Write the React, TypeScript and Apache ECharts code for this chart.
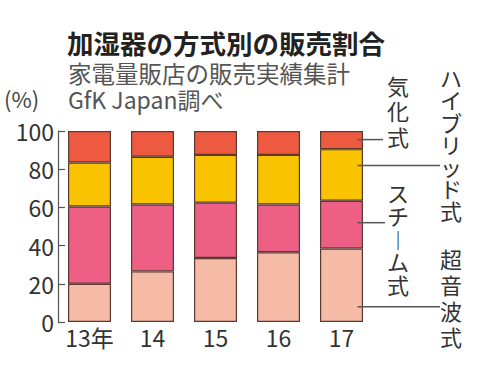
import React, { useEffect, useRef } from "react";
import * as echarts from "echarts";

const categories = ["13年", "14", "15", "16", "17"];
const ultrasonic = [20, 26.5, 33.5, 36.5, 38.5]; // 超音波式
const steam = [40.5, 35, 29, 25, 25]; // スチーム式
const hybrid = [23, 25, 25, 26, 27]; // ハイブリッド式
const vaporize = [16.5, 13.5, 12.5, 12.5, 9.5]; // 気化式
const yTicks = [0, 20, 40, 60, 80, 100];
// leader line anchor values on the last bar
const leaderValues = [95.5, 82, 52, 8];

const FONT = '"Noto Sans CJK JP", "Noto Sans", sans-serif';
const BORDER = "#5a3a30";

export default function App() {
  const ref = useRef<HTMLDivElement>(null);
  useEffect(() => {
    if (!ref.current) return;
    const chart = echarts.init(ref.current, null, { renderer: "svg" });
    const mk = (name: string, data: number[], color: string) => ({
      name,
      type: "bar",
      stack: "s",
      data,
      barWidth: 43,
      itemStyle: { color, borderColor: BORDER, borderWidth: 1.2 },
    });
    const vText = (s: string, x: number, y: number, lh: number) => ({
      type: "text",
      x,
      y,
      style: {
        text: s.split("").join("\n"),
        font: `22px ${FONT}`,
        fill: "#333",
        lineHeight: lh,
        align: "center",
        verticalAlign: "top",
      },
    });
    const baseGraphic: any[] = [
      {
        type: "text",
        left: 67,
        top: 29,
        style: { text: "加湿器の方式別の販売割合", font: `bold 26.5px ${FONT}`, fill: "#222" },
      },
      {
        type: "text",
        left: 68,
        top: 61,
        style: { text: "家電量販店の販売実績集計", font: `23.5px ${FONT}`, fill: "#555" },
      },
      {
        type: "text",
        left: 68,
        top: 87,
        style: { text: "GfK Japan調べ", font: `23px ${FONT}`, fill: "#555" },
      },
      {
        type: "text",
        left: 4,
        top: 87,
        style: { text: "(%)", font: `22px ${FONT}`, fill: "#444" },
      },
      vText("気化式", 398, 72, 25.5),
      vText("ハイブリッド式", 451, 66, 22.2),
      vText("スチ︱ム式", 398, 180, 23),
      vText("超音波式", 451, 245, 26),
    ];
    const option: any = {
      animation: false,
      backgroundColor: "#fff",
      grid: { left: 58, right: 127, top: 131, bottom: 44, containLabel: false },
      xAxis: {
        type: "category",
        data: categories,
        axisLine: { show: false },
        axisTick: { show: false },
        axisLabel: { color: "#333", fontSize: 23, fontFamily: FONT, margin: 3, interval: 0 },
      },
      yAxis: {
        type: "value",
        min: 0,
        max: 100,
        interval: 20,
        axisLine: { show: true, lineStyle: { color: "#555", width: 1.2 } },
        axisTick: { show: true, inside: true, length: 7, lineStyle: { color: "#555", width: 1.2 } },
        splitLine: { show: false },
        axisLabel: {
          color: "#333",
          fontSize: 23,
          fontFamily: FONT,
          margin: 4,
          formatter: (v: number) => (yTicks.includes(v) ? String(v) : ""),
        },
      },
      series: [
        mk("超音波式", ultrasonic, "#F6BBA6"),
        mk("スチーム式", steam, "#EE5F86"),
        mk("ハイブリッド式", hybrid, "#F9C300"),
        mk("気化式", vaporize, "#EE5A3F"),
      ],
      graphic: baseGraphic,
    };
    chart.setOption(option);
    const last = categories[categories.length - 1];
    const ends = [383, 440, 385, 440];
    const lines = leaderValues.map((v, i) => {
      const p = chart.convertToPixel({ gridIndex: 0 }, [last, v]) as number[];
      return {
        type: "line",
        shape: { x1: p[0] + 16, y1: p[1], x2: ends[i], y2: p[1] },
        style: { stroke: "#555", lineWidth: 1.5 },
        z: 10,
      };
    });
    chart.setOption({ graphic: [...baseGraphic, ...lines] }, { replaceMerge: ["graphic"] });
    return () => chart.dispose();
  }, []);
  return (
    <div
      ref={ref}
      style={{ position: "fixed", left: 0, top: 0, width: 500, height: 366 }}
    />
  );
}
